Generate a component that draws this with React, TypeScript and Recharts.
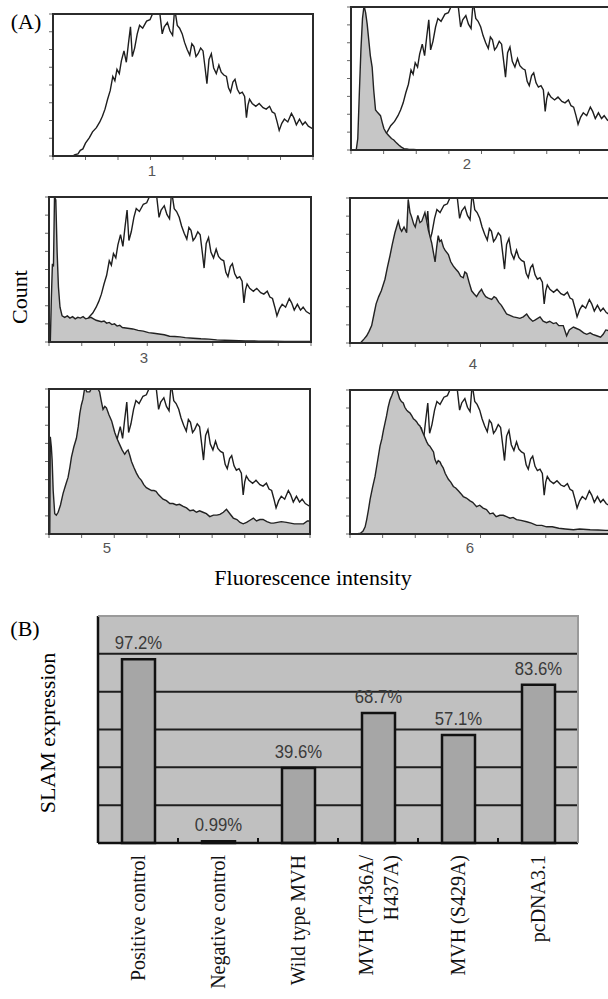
import React from 'react'
import { ComposedChart, Area, XAxis, YAxis, BarChart, Bar, LabelList, CartesianGrid } from 'recharts'

// flow cytometry traces, [channel % of axis, count % of panel height]
const positiveCurve = [
  [0, 0], [7.5, 0], [8.5, 1], [9.6, 1.5], [10.5, 4], [11.5, 5], [12.5, 9], [14, 13], [15.2, 17], [16.7, 20],
  [18, 24], [19, 28], [20, 33], [21, 40], [22, 46], [23, 56], [23.8, 53], [24.6, 61], [25.5, 58], [26.3, 67],
  [27.3, 74], [28.2, 66], [29, 79], [29.8, 91], [30.5, 70], [31.4, 76], [32.4, 86], [33.3, 92], [34.5, 90], [36, 95],
  [37.3, 96], [38.5, 101], [40, 100], [41, 102], [42, 86], [42.8, 91], [44, 94], [45, 88], [46, 85], [46.8, 104],
  [47.8, 92], [48.7, 90], [49.7, 86], [50.6, 80], [51.6, 75], [52.6, 71], [53.4, 79], [54.2, 77], [55, 70], [55.8, 72],
  [56.8, 76], [57.7, 74], [58.5, 62], [59.2, 51], [60, 68], [60.9, 72], [61.8, 62], [62.8, 58], [63.8, 64], [64.7, 59],
  [65.7, 57], [66.7, 56], [67.5, 48], [68.3, 45], [69.2, 52], [70, 54], [70.9, 47], [71.8, 44], [72.8, 45], [73.7, 42],
  [74.4, 27], [75, 36], [75.6, 40], [76.6, 37], [78, 35], [79.3, 37], [80.8, 34], [82, 33], [83.3, 35], [84.3, 31],
  [85.3, 30], [86.2, 24], [87, 18], [88, 23], [89, 26], [90.3, 24], [91.7, 30], [92.6, 27], [93.6, 22], [94.8, 26],
  [96, 22], [97, 24], [98.2, 21], [100, 19],
]

const shaded2 = [
  [0, 0], [2, 0], [2.6, 8], [3.2, 40], [3.8, 70], [4.4, 92], [5, 101], [5.6, 96], [6.2, 88], [6.8, 77],
  [7.4, 66], [8.1, 58], [8.7, 42], [9.4, 28], [10.3, 26], [11.3, 24], [12, 19], [12.6, 15], [13.5, 12], [14.5, 10],
  [15.5, 8], [16.4, 7], [17.4, 5], [18.3, 3.5], [19.3, 2], [20.3, 1], [22, 0.5], [24, 0.3], [26, 0], [100, 0],
]

const shaded3 = [
  [0, 0], [0.5, 0], [0.9, 30], [1.3, 54], [1.7, 52], [2.1, 100], [2.6, 98], [3.1, 62], [3.6, 38], [4.2, 24],
  [5, 18], [6, 17], [7, 18], [8, 16.5], [9, 17.5], [10, 16], [11, 17], [12, 16.5], [13, 17.5], [14, 16],
  [15, 16.5], [16, 17], [17, 16], [18, 15], [19, 14.5], [20, 14], [21, 14.5], [22, 13], [23, 13.5], [24, 12],
  [25, 12.5], [26, 11], [27, 11.5], [28, 10], [30, 9.5], [32, 9], [34, 8], [36, 7.5], [38, 6.5], [40, 6],
  [42, 5.5], [44, 5], [46, 4], [48, 3.8], [50, 3.5], [52, 3], [55, 2.6], [58, 2.2], [61, 2], [64, 1.5],
  [67, 1.2], [70, 1], [75, 0.8], [80, 0.6], [85, 0.5], [90, 0.4], [95, 0.3], [100, 0.3],
]

const shaded4 = [
  [0, 0], [4, 0], [4.5, 1], [5.5, 3], [6.4, 5], [7.3, 8], [8.3, 12], [9.2, 20], [10, 27], [11, 32],
  [12, 36], [13.4, 44], [14.3, 52], [15.3, 60], [16.2, 68], [17.2, 76], [18.5, 84], [19.2, 79], [19.8, 77], [20.7, 80],
  [21.7, 76], [22.3, 99], [23, 90], [23.6, 87], [24.4, 82], [25, 80], [26, 88], [26.8, 83], [27.5, 84], [28.7, 90],
  [29.4, 84], [30, 78], [31.3, 69], [32, 62], [32.6, 56], [33.2, 66], [33.8, 74], [34.4, 70], [35, 71], [35.8, 66],
  [36.4, 64], [37.7, 61], [38.6, 56], [39.6, 53], [40.5, 51], [41.5, 49], [42.4, 46], [43.4, 45], [44, 49], [44.7, 48],
  [45.6, 42], [46.6, 36], [47.5, 34], [48.5, 32], [49.5, 35], [50.4, 37], [51.2, 34], [52, 32], [53, 31], [54.3, 30],
  [55.2, 32], [56, 31], [57, 28], [58, 26], [59, 23], [60, 20], [61.3, 19], [62.6, 18], [64, 17.5], [65.1, 17],
  [66.4, 18], [67.7, 20], [68.8, 17], [70, 15], [71, 16], [72.8, 18], [74, 15], [75.3, 14], [76.5, 15], [77.9, 13.4],
  [79, 14], [80, 12], [81.7, 12], [83, 5], [84, 9], [85.6, 11], [86.8, 10], [88, 9], [89.5, 7], [90.7, 6],
  [92, 7], [93, 6], [94.5, 5], [96, 4], [97, 6], [98, 9], [100, 8],
]

const shaded5 = [
  [0, 0], [0.3, 0], [0.5, 67], [0.9, 60], [1.2, 51], [1.6, 30], [2.2, 14], [2.8, 13], [3.5, 15], [4.4, 20],
  [5.4, 28], [6.4, 34], [7.3, 39], [8, 46], [8.6, 53], [9.5, 60], [10.5, 66], [11.2, 74], [11.8, 83], [12.4, 89],
  [13, 93], [13.7, 101], [14.5, 98], [15.6, 98], [16.4, 101], [17.5, 100], [18.5, 101], [19.4, 98], [20, 92], [20.7, 86],
  [21.4, 88], [22, 87], [23, 82], [24, 78], [24.6, 74], [25.2, 70], [26, 66], [27, 62], [28, 58], [29, 55],
  [29.7, 57], [30.3, 58], [31, 54], [31.6, 50], [32.5, 46], [33.5, 42], [34.4, 39], [35.4, 37], [36.3, 34], [37.3, 32],
  [38.3, 31], [39.3, 30], [40.2, 30], [41, 29.5], [42, 27], [43.7, 24], [45, 23], [46.3, 21], [47.5, 21], [48.8, 20],
  [50, 20.5], [51.4, 19], [52.7, 18], [54, 16], [55.3, 16.5], [56.5, 15], [57.7, 16], [59, 15], [60.3, 14], [61.6, 12],
  [63, 13], [64.3, 13], [65.5, 13.5], [66.8, 15], [68, 17], [69.3, 14], [70.6, 11], [72, 10], [73.2, 8], [74.4, 7],
  [75.7, 8], [77, 9.5], [78.3, 11], [79.5, 9], [80.8, 10], [82, 10], [83.5, 8.5], [85, 7.5], [86, 7.5], [87.5, 8],
  [89, 8.5], [91, 8], [92.5, 7.5], [94, 7], [96, 7], [97.5, 7], [99, 9], [100, 9],
]

const shaded6 = [
  [0, 0], [2.5, 0], [4, 0.5], [5, 2], [5.8, 5], [6.4, 10], [7, 16], [7.7, 24], [8.6, 32], [9.6, 40],
  [10.5, 50], [11.5, 61], [12.2, 66], [12.8, 72], [13.4, 77], [14, 82], [14.6, 88], [15.3, 93], [16, 96], [16.6, 99],
  [17.2, 101], [17.9, 100], [18.5, 97], [19, 94], [19.7, 92], [20.4, 91], [21, 88], [21.7, 86], [22.3, 85], [23, 84],
  [23.7, 82], [24.3, 80], [25, 79], [25.5, 78], [26.2, 76], [26.8, 75], [27.5, 72], [28, 70], [28.7, 67], [29.4, 64],
  [30, 62], [30.6, 61], [31.3, 59], [32, 57], [32.5, 52], [33.2, 49], [33.8, 51], [34.5, 50], [35, 48], [35.7, 46],
  [36.5, 42], [37.7, 38], [38.6, 36], [39.6, 33], [40.5, 32], [41.5, 30], [42.5, 28], [43.4, 26], [44.6, 25], [46, 23],
  [47, 22], [48.5, 19], [49.7, 20], [51, 18], [52.3, 17], [53.6, 14], [54.8, 14.5], [56, 12], [57.4, 13], [58.7, 13],
  [60, 12], [61.3, 11], [62.5, 11.5], [63.8, 10], [65.5, 9.5], [67.7, 8.5], [69.5, 7.5], [71.5, 6], [73.5, 6], [75.3, 5],
  [77.5, 5], [80, 4], [82.5, 3.5], [85.6, 3], [88, 3.5], [92, 3], [95, 2.8], [98, 2.5], [100, 2.5],
]

const histTicks = [0, 12.5, 25, 37.5, 50, 62.5, 75, 87.5, 100]

// panel (B)
const groups = ['Positive control', 'Negative control', 'Wild type MVH', 'MVH (T436A/\nH437A)', 'MVH (S429A)', 'pcDNA3.1']
const expression = [97.2, 0.99, 39.6, 68.7, 57.1, 83.6]
const gridTicks = [0, 20, 40, 60, 80, 100, 120]

const SERIF = '"Liberation Serif", "Times New Roman", serif'
const SANS = '"Liberation Sans", Arial, sans-serif'

const panels = [
  { num: '1', box: [53, 14, 260, 142], numAt: [152, 170], shaded: null },
  { num: '2', box: [351, 7, 261, 143], numAt: [467, 163], shaded: shaded2 },
  { num: '3', box: [49, 197, 262, 145], numAt: [144, 357], shaded: shaded3 },
  { num: '4', box: [350, 198, 261, 145], numAt: [473, 363], shaded: shaded4 },
  { num: '5', box: [49, 389, 261, 145], numAt: [107, 547], shaded: shaded5 },
  { num: '6', box: [350, 390, 261, 144], numAt: [470, 547], shaded: shaded6 },
]

const toPoints = (pairs: number[][]) => pairs.map(([x, y]) => ({ x, y }))
const blank = () => ''

function Histogram({ num, box, numAt, shaded }: any) {
  const [bx, by, bw, bh] = box
  return (
    <>
      <div style={{ position: 'absolute', left: bx - 8, top: by - 2 }}>
        <ComposedChart width={bw + 10} height={bh + 28} margin={{ top: 2, right: 2, bottom: 0, left: 0 }}>
          <XAxis type="number" dataKey="x" domain={[0, 100]} ticks={histTicks} tickFormatter={blank}
            tickSize={4} height={26} stroke="#666" allowDataOverflow />
          <YAxis type="number" domain={[0, 100]} ticks={histTicks} tickFormatter={blank}
            tickSize={4} width={8} stroke="#666" allowDataOverflow />
          <Area data={toPoints(positiveCurve)} dataKey="y" type="linear" fill="#fff" fillOpacity={1}
            stroke="#1e1e1e" strokeWidth={1.4} dot={false} activeDot={false} isAnimationActive={false} />
          {shaded && (
            <Area data={toPoints(shaded)} dataKey="y" type="linear" fill="#c6c6c6" fillOpacity={1}
              stroke="#222" strokeWidth={1.4} dot={false} activeDot={false} isAnimationActive={false} />
          )}
        </ComposedChart>
      </div>
      <div style={{
        position: 'absolute', left: bx - 1, top: by - 1, width: bw + 2, height: bh + 2,
        boxSizing: 'border-box', border: '2px solid #2b2b2b', pointerEvents: 'none',
      }} />
      <div style={{
        position: 'absolute', left: numAt[0], top: numAt[1], transform: 'translate(-50%, -50%)',
        fontFamily: SANS, fontSize: 15, color: '#555', lineHeight: 1,
      }}>{num}</div>
    </>
  )
}

function GroupTick({ x, y, payload }: any) {
  const lines = String(payload.value).split('\n')
  const ty = y + 12
  return (
    <g>
      <line x1={x + 40} y1={y - 5} x2={x + 40} y2={y} stroke="#111" strokeWidth={2} />
      {lines.map((line, i) => {
        const tx = x + (i - (lines.length - 1) / 2) * 25
        return (
          <text key={i} x={tx} y={ty} dy="0.35em" textAnchor="end" transform={`rotate(-90 ${tx} ${ty})`}
            fontFamily={SERIF} fontSize={20} fill="#111">{line}</text>
        )
      })}
    </g>
  )
}

function ValueLabel(props: any) {
  const { x, y, width, value } = props
  const cx = x + width / 2
  const cy = y - 10
  return (
    <text x={cx} y={cy} textAnchor="middle" fontFamily={SANS} fontSize={19} fill="#3a3a3a"
      transform={`translate(${cx} ${cy}) scale(0.88 1) translate(${-cx} ${-cy})`}>{`${value}%`}</text>
  )
}

export default function App() {
  const barData = groups.map((group, i) => ({ group, value: expression[i] }))
  return (
    <div style={{ position: 'absolute', left: 0, top: 0, width: 608, height: 999, overflow: 'hidden', background: '#fff' }}>
      <div style={{ position: 'absolute', left: 26, top: 22, transform: 'translate(-50%, -50%)', fontFamily: SERIF, fontSize: 22, lineHeight: 1 }}>(A)</div>
      {panels.map(p => <Histogram key={p.num} {...p} />)}
      <div style={{ position: 'absolute', left: 20, top: 297, transform: 'translate(-50%, -50%) rotate(-90deg)', fontFamily: SERIF, fontSize: 22, lineHeight: 1 }}>Count</div>
      <div style={{ position: 'absolute', left: 313, top: 578, transform: 'translate(-50%, -50%)', fontFamily: SERIF, fontSize: 22, lineHeight: 1, whiteSpace: 'nowrap' }}>Fluorescence intensity</div>

      <div style={{ position: 'absolute', left: 25, top: 629, transform: 'translate(-50%, -50%)', fontFamily: SERIF, fontSize: 22, lineHeight: 1 }}>(B)</div>
      <div style={{ position: 'absolute', left: 48, top: 733, transform: 'translate(-50%, -50%) rotate(-90deg)', fontFamily: SERIF, fontSize: 22, lineHeight: 1, whiteSpace: 'nowrap' }}>SLAM expression</div>
      <div style={{ position: 'absolute', left: 88, top: 612 }}>
        <BarChart width={500} height={381} data={barData} margin={{ top: 4, right: 10, bottom: 0, left: 0 }}>
          <CartesianGrid vertical={false} fill="#c0c0c0" fillOpacity={1} stroke="#1e1e1e" strokeWidth={2} />
          <XAxis dataKey="group" type="category" height={150} tickSize={0} tickMargin={0} interval={0}
            tick={<GroupTick />} axisLine={{ stroke: '#111', strokeWidth: 2.5 }} />
          <YAxis type="number" domain={[0, 120]} ticks={gridTicks} width={10} tickFormatter={blank} tickLine={false}
            axisLine={{ stroke: '#111', strokeWidth: 2.5 }} />
          <Bar dataKey="value" barSize={33} fill="#a6a6a6" stroke="#111" strokeWidth={2.5} isAnimationActive={false}>
            <LabelList dataKey="value" content={<ValueLabel />} />
          </Bar>
        </BarChart>
      </div>
      <div style={{
        position: 'absolute', left: 98, top: 615, width: 481, height: 228,
        boxSizing: 'border-box', borderTop: '2px solid #9a9a9a', borderRight: '2px solid #9a9a9a', pointerEvents: 'none',
      }} />
    </div>
  )
}
